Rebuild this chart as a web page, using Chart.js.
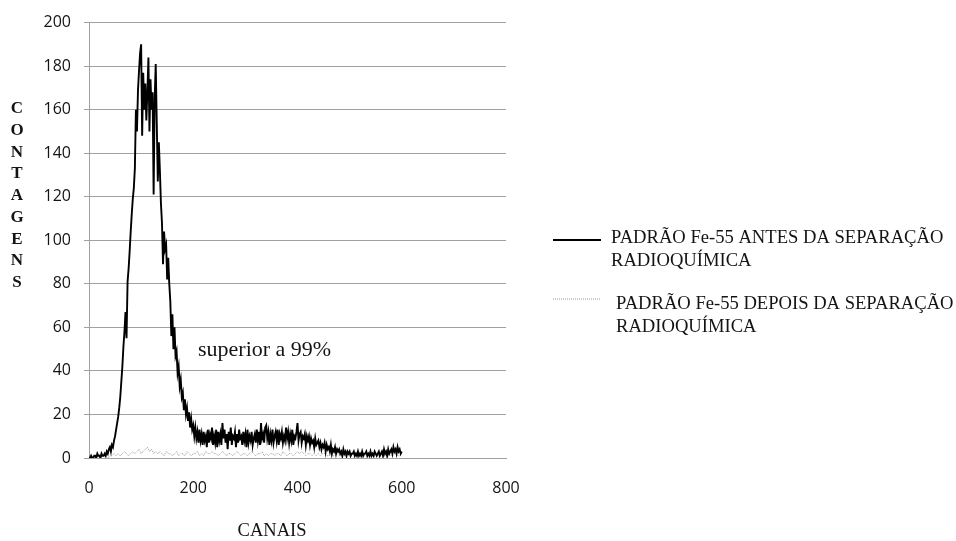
<!DOCTYPE html>
<html>
<head>
<meta charset="utf-8">
<script src="https://cdn.jsdelivr.net/npm/chart.js@4.4.0/dist/chart.umd.min.js"></script>
<style>
  html, body { margin: 0; padding: 0; background: #fff; }
</style>
</head>
<body>
<canvas id="chart" width="956" height="541"></canvas>
<script>
// contagens antes da separação: canal 0 a 600, de 2 em 2 canais
const antesInicio = 0;
const antesPasso = 2;
const antes = [
  0, 0, 1, 0, 0, 1, 1, 0, 2, 1,
  1, 0, 2, 1, 1, 2, 1, 3, 2, 4,
  5, 3, 6, 5, 8, 10, 13, 16, 19, 23,
  28, 35, 42, 51, 58, 67, 55, 81, 87, 95,
  104, 112, 119, 124, 133, 160, 150, 169, 178, 186,
  190, 148, 177, 160, 172, 155, 168, 184, 150, 174,
  160, 168, 121, 165, 181, 154, 127, 145, 132, 117,
  108, 89, 104, 96, 98, 82, 92, 80, 72, 56,
  66, 50, 60, 47, 49, 39, 42, 33, 36, 28,
  30, 22, 27, 20, 23, 17, 21, 14, 18, 13,
  15, 10, 14, 9, 12, 7, 13, 8, 11, 6,
  12, 8, 10, 5, 13, 7, 11, 9, 14, 6,
  10, 7, 13, 5, 12, 8, 11, 6, 16, 9,
  13, 7, 11, 4, 12, 8, 14, 6, 10, 9,
  12, 5, 11, 7, 13, 9, 10, 6, 12, 8,
  11, 5, 13, 7, 10, 8, 12, 6, 9, 11,
  7, 13, 8, 12, 6, 16, 9, 11, 7, 14,
  15, 9, 12, 6, 11, 8, 13, 7, 10, 12,
  8, 13, 6, 11, 9, 12, 7, 10, 8, 14,
  9, 12, 7, 11, 8, 13, 6, 10, 9, 12,
  16, 8, 11, 12, 7, 10, 9, 11, 6, 10,
  8, 10, 6, 9, 7, 8, 5, 9, 6, 7,
  8, 5, 7, 4, 6, 5, 7, 3, 6, 4,
  5, 3, 6, 2, 4, 3, 5, 2, 4, 3,
  4, 2, 3, 1, 4, 2, 3, 1, 3, 2,
  3, 1, 2, 2, 3, 1, 2, 1, 3, 1,
  2, 1, 3, 1, 2, 2, 3, 1, 2, 1,
  3, 1, 2, 1, 3, 2, 1, 2, 3, 1,
  2, 3, 1, 4, 2, 3, 1, 4, 2, 3,
  4, 2, 5, 3, 4, 2, 5, 3, 4, 2,
  3
];

// contagens depois da separação: canal 36 a 596, de 4 em 4 canais
const depoisInicio = 36;
const depoisPasso = 4;
const depois = [
  0, 1, 1, 2, 1, 2, 1, 2, 3, 2,
  1, 2, 3, 2, 3, 4, 2, 3, 4, 5,
  3, 4, 2, 3, 2, 3, 2, 1, 3, 2,
  2, 1, 2, 3, 1, 2, 2, 1, 3, 2,
  1, 2, 2, 3, 1, 2, 1, 3, 2, 2,
  3, 2, 2, 1, 2, 3, 2, 1, 2, 2,
  1, 2, 3, 2, 1, 2, 2, 1, 2, 3,
  2, 1, 2, 2, 3, 1, 2, 1, 2, 2,
  1, 2, 2, 1, 3, 2, 1, 2, 2, 1,
  2, 3, 2, 3, 2, 1, 2, 2, 1, 2,
  1, 2, 1, 2, 2, 1, 1, 2, 1, 1,
  2, 1, 1, 2, 1, 1, 1, 2, 1, 1,
  1, 1, 2, 1, 1, 1, 2, 1, 1, 1,
  1, 2, 1, 1, 1, 2, 1, 1, 2, 1,
  1
];

const ticksX = [0, 200, 400, 600, 800];
const ticksY = [0, 20, 40, 60, 80, 100, 120, 140, 160, 180, 200];

const legendas = [
  ["PADRÃO Fe-55 ANTES DA SEPARAÇÃO", "RADIOQUÍMICA"],
  ["PADRÃO Fe-55 DEPOIS DA SEPARAÇÃO", "RADIOQUÍMICA"]
];
const tituloX = "CANAIS";
const tituloY = "CONTAGENS";
const nota = "superior a 99%";

const serif = "'Liberation Serif', 'Times New Roman', serif";
const corTexto = "#141414";
const corGrade = "#a0a0a0";
const corDepois = "#9a9a9a";

function pontos(inicio, passo, valores) {
  return valores.map((v, i) => ({ x: inicio + i * passo, y: v }));
}

// títulos, nota e legenda de duas linhas desenhados à mão
const textos = {
  id: "textos",
  afterDraw(chart) {
    const ctx = chart.ctx;
    ctx.save();
    ctx.fillStyle = corTexto;
    ctx.textBaseline = "alphabetic";

    ctx.textAlign = "center";
    ctx.font = "bold 17px " + serif;
    tituloY.split("").forEach((letra, i) => {
      ctx.fillText(letra, 17, 113 + i * 21.75);
    });

    ctx.font = "18.5px " + serif;
    ctx.fillText(tituloX, 272, 536);

    ctx.textAlign = "left";
    ctx.font = "22px " + serif;
    ctx.fillText(nota, 198, 356);

    // legenda
    ctx.font = "18.6px " + serif;
    const itens = [
      { y: 240, texto: 611, base: 243, cor: "#000", largura: 2, traco: [] },
      { y: 299, texto: 616, base: 309, cor: corDepois, largura: 1, traco: [1, 1] }
    ];
    itens.forEach((it, i) => {
      ctx.beginPath();
      ctx.strokeStyle = it.cor;
      ctx.lineWidth = it.largura;
      ctx.setLineDash(it.traco);
      ctx.moveTo(553, it.y);
      ctx.lineTo(601, it.y);
      ctx.stroke();
      ctx.setLineDash([]);
      legendas[i].forEach((linha, j) => {
        ctx.fillText(linha, it.texto, it.base + j * 23);
      });
    });
    ctx.restore();
  }
};

const ctx = document.getElementById("chart").getContext("2d");

const chart = new Chart(ctx, {
  type: "line",
  data: {
    datasets: [
      {
        label: legendas[0].join(" "),
        data: pontos(antesInicio, antesPasso, antes),
        borderColor: "#000",
        borderWidth: 1.9,
        pointRadius: 0,
        tension: 0
      },
      {
        label: legendas[1].join(" "),
        data: pontos(depoisInicio, depoisPasso, depois),
        borderColor: corDepois,
        borderWidth: 1,
        borderDash: [1, 1],
        pointRadius: 0,
        tension: 0
      }
    ]
  },
  options: {
    responsive: false,
    animation: false,
    parsing: false,
    layout: { padding: { left: 0, top: 19, right: 450, bottom: 0 } },
    plugins: {
      legend: { display: false },
      tooltip: { enabled: false }
    },
    scales: {
      x: {
        type: "linear",
        min: 0,
        max: 800,
        afterBuildTicks: (s) => { s.ticks = ticksX.map((v) => ({ value: v })); },
        afterFit: (s) => { s.height = 83; },
        grid: { display: false, drawTicks: false },
        border: { display: true, color: corGrade, width: 1 },
        ticks: {
          padding: 21,
          color: corTexto,
          font: { family: "'Open Sans', sans-serif", size: 16 }
        }
      },
      y: {
        min: 0,
        max: 200,
        afterBuildTicks: (s) => { s.ticks = ticksY.map((v) => ({ value: v })); },
        afterFit: (s) => { s.width = 89; },
        grid: { color: corGrade, lineWidth: 1, tickLength: 5 },
        border: { display: true, color: corGrade, width: 1 },
        ticks: {
          padding: 13,
          color: corTexto,
          font: { family: "'Open Sans', sans-serif", size: 16 }
        }
      }
    }
  },
  plugins: [textos]
});
</script>
</body>
</html>
